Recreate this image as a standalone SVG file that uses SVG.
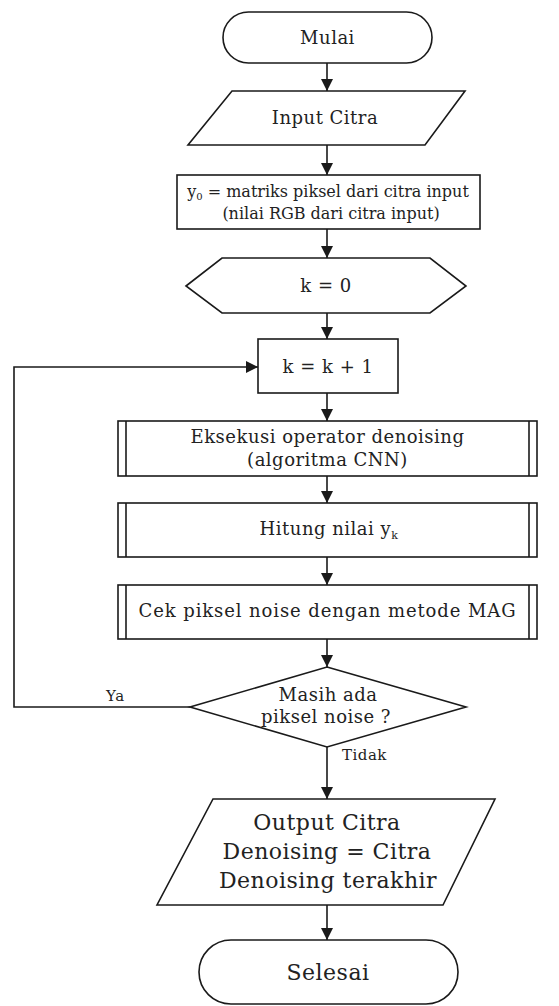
<svg xmlns="http://www.w3.org/2000/svg" width="559" height="1006" viewBox="0 0 559 1006">
<defs>
<style>
.s{fill:#fff;stroke:#1a1a1a;stroke-width:1.6}
.l{fill:none;stroke:#1a1a1a;stroke-width:1.6}
.t{font-family:"DejaVu Serif","Liberation Serif",serif;font-size:18px;fill:#222;text-anchor:middle;letter-spacing:0.5px}
.b{font-size:22px}
.m{font-size:16px;letter-spacing:0}
.sm{font-size:15px;text-anchor:start}
</style>
<marker id="ah" viewBox="0 0 12 12" refX="12" refY="6" markerWidth="12" markerHeight="12" markerUnits="userSpaceOnUse" orient="auto">
<path d="M0,0 L12,6 L0,12 z" fill="#1a1a1a"/>
</marker>
</defs>
<rect width="559" height="1006" fill="#fff"/>
<g id="connectors">
<line class="l" x1="327" y1="63" x2="327" y2="91" marker-end="url(#ah)"/>
<line class="l" x1="327" y1="145" x2="327" y2="175" marker-end="url(#ah)"/>
<line class="l" x1="327" y1="229" x2="327" y2="258" marker-end="url(#ah)"/>
<line class="l" x1="327" y1="313" x2="327" y2="339" marker-end="url(#ah)"/>
<line class="l" x1="327" y1="393" x2="327" y2="421" marker-end="url(#ah)"/>
<line class="l" x1="327" y1="476" x2="327" y2="503" marker-end="url(#ah)"/>
<line class="l" x1="327" y1="557" x2="327" y2="585" marker-end="url(#ah)"/>
<line class="l" x1="327" y1="639" x2="327" y2="667" marker-end="url(#ah)"/>
<line class="l" x1="327" y1="747" x2="327" y2="799" marker-end="url(#ah)"/>
<line class="l" x1="327" y1="905" x2="327" y2="940" marker-end="url(#ah)"/>
<polyline class="l" points="190,707 14,707 14,367 258,367" marker-end="url(#ah)"/>
<text class="t sm" x="106" y="701">Ya</text>
<text class="t sm" x="342" y="760">Tidak</text>
</g>
<g id="mulai">
<rect class="s" x="223" y="12" width="209" height="51" rx="25.5"/>
<text class="t" x="327.5" y="44">Mulai</text>
</g>
<g id="input">
<polygon class="s" points="232,91 465,91 425,145 188,145"/>
<text class="t" x="325" y="124">Input Citra</text>
</g>
<g id="y0">
<rect class="s" x="177" y="175" width="303" height="54"/>
<text class="t m" x="328" y="197">y<tspan font-size="10" dy="3">0</tspan><tspan dy="-3"> = matriks piksel dari citra input</tspan></text>
<text class="t m" x="331" y="219">(nilai RGB dari citra input)</text>
</g>
<g id="k0">
<polygon class="s" points="186,286 222,258 430,258 466,286 430,313 222,313"/>
<text class="t" x="326" y="292">k = 0</text>
</g>
<g id="kinc">
<rect class="s" x="258" y="339" width="140" height="54"/>
<text class="t" x="328" y="373">k = k + 1</text>
</g>
<g id="eksekusi">
<rect class="s" x="118" y="421" width="419" height="55"/>
<line class="l" x1="126" y1="421" x2="126" y2="476"/>
<line class="l" x1="529" y1="421" x2="529" y2="476"/>
<text class="t" x="327.5" y="443">Eksekusi operator denoising</text>
<text class="t" x="327.5" y="466">(algoritma CNN)</text>
</g>
<g id="hitung">
<rect class="s" x="118" y="503" width="419" height="54"/>
<line class="l" x1="126" y1="503" x2="126" y2="557"/>
<line class="l" x1="529" y1="503" x2="529" y2="557"/>
<text class="t" x="329" y="535">Hitung nilai y<tspan font-size="11" dy="4">k</tspan></text>
</g>
<g id="cek">
<rect class="s" x="118" y="585" width="419" height="54"/>
<line class="l" x1="126" y1="585" x2="126" y2="639"/>
<line class="l" x1="529" y1="585" x2="529" y2="639"/>
<text class="t" x="327.5" y="617" style="letter-spacing:0.9px">Cek piksel noise dengan metode MAG</text>
</g>
<g id="decision">
<polygon class="s" points="327,667 466,707 327,747 190,707"/>
<text class="t" x="328" y="701">Masih ada</text>
<text class="t" x="326" y="723">piksel noise ?</text>
</g>
<g id="output">
<polygon class="s" points="213,799 495,799 443,905 157,905"/>
<text class="t b" x="327" y="830">Output Citra</text>
<text class="t b" x="327" y="859">Denoising = Citra</text>
<text class="t b" x="328" y="888">Denoising terakhir</text>
</g>
<g id="selesai">
<rect class="s" x="199" y="940" width="259" height="64" rx="32"/>
<text class="t b" x="328" y="980">Selesai</text>
</g>
</svg>
